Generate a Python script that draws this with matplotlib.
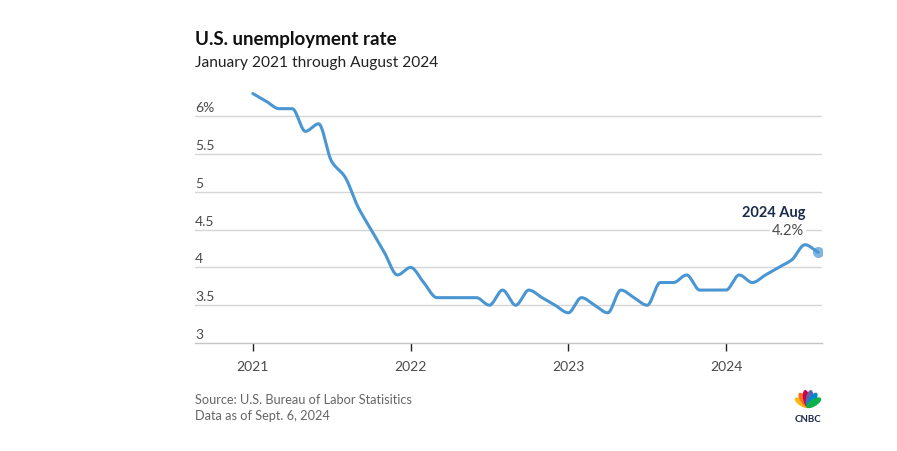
import matplotlib
matplotlib.use("Agg")
import matplotlib.pyplot as plt
import numpy as np
from matplotlib.patches import Ellipse

# ── data: monthly U.S. unemployment rate, Jan 2021 .. Aug 2024 ──────────────
rate_2021 = [6.3, 6.2, 6.1, 6.1, 5.8, 5.9, 5.4, 5.2, 4.8, 4.5, 4.2, 3.9]
rate_2022 = [4.0, 3.8, 3.6, 3.6, 3.6, 3.6, 3.5, 3.7, 3.5, 3.7, 3.6, 3.5]
rate_2023 = [3.4, 3.6, 3.5, 3.4, 3.7, 3.6, 3.5, 3.8, 3.8, 3.9, 3.7, 3.7]
rate_2024 = [3.7, 3.9, 3.8, 3.9, 4.0, 4.1, 4.3, 4.2]
years = ["2021", "2022", "2023", "2024"]
y_ticks = [3, 3.5, 4, 4.5, 5, 5.5, 6]
y_labels = ["3", "3.5", "4", "4.5", "5", "5.5", "6%"]

rate = np.array(rate_2021 + rate_2022 + rate_2023 + rate_2024)
months = np.arange(len(rate))


def monotone_curve(x, y, steps=24):
    # Fritsch-Carlson monotone cubic, like d3's curveMonotoneX
    h = np.diff(x).astype(float)
    d = np.diff(y) / h
    m = np.zeros(len(y))
    m[0], m[-1] = d[0], d[-1]
    for k in range(1, len(y) - 1):
        if d[k - 1] * d[k] > 0:
            m[k] = 2.0 / (1.0 / d[k - 1] + 1.0 / d[k])
    xs, ys = [], []
    for k in range(len(x) - 1):
        t = np.linspace(0, 1, steps, endpoint=False)
        h00 = 2 * t**3 - 3 * t**2 + 1
        h10 = t**3 - 2 * t**2 + t
        h01 = -2 * t**3 + 3 * t**2
        h11 = t**3 - t**2
        xs.append(x[k] + t * h[k])
        ys.append(h00 * y[k] + h10 * h[k] * m[k] + h01 * y[k + 1] + h11 * h[k] * m[k + 1])
    xs.append([x[-1]])
    ys.append([y[-1]])
    return np.concatenate(xs), np.concatenate(ys)


LINE = "#4a96d2"
GRID = "#d6d6d6"
TEXT = "#4a4a4a"

plt.rcParams["font.family"] = ["Lato", "DejaVu Sans"]

fig = plt.figure(figsize=(8.97, 4.51), dpi=100)
ax = fig.add_axes([195 / 897, 108 / 451, (822 - 195) / 897, (343 - 86) / 451])

ax.set_xlim(-4.4, 43.3)
ax.set_ylim(3, 6.4)

for v in y_ticks[1:]:
    ax.axhline(v, color=GRID, lw=1, zorder=1)
for s in ["top", "right", "left"]:
    ax.spines[s].set_visible(False)
ax.spines["bottom"].set_color("#c4c4c4")
ax.spines["bottom"].set_linewidth(1)

# y labels sit inside the plot, just above each gridline
ax.set_yticks([])
for v, lab in zip(y_ticks, y_labels):
    ax.annotate(lab, xy=(0, v), xycoords=("axes fraction", "data"),
                xytext=(0, 2), textcoords="offset pixels",
                ha="left", va="bottom", fontsize=10, color=TEXT)

ax.set_xticks([0, 12, 24, 36])
ax.set_xticklabels(years, fontsize=10, color=TEXT)
ax.tick_params(axis="x", length=6, width=1, color="#222222", pad=7)

cx, cy = monotone_curve(months, rate)
ax.plot(cx, cy, color=LINE, lw=2.2, solid_capstyle="round", zorder=3)
ax.plot(months[-1], rate[-1], "o", ms=8, color=LINE, alpha=0.7, mec="none", zorder=4)

ax.annotate("2024 Aug", xy=(months[-1], rate[-1]), xytext=(-13, 39),
            textcoords="offset pixels", ha="right", va="center",
            fontsize=10.5, fontweight="bold", color="#1b2b4b", zorder=5)
ax.annotate(f"{rate[-1]:.1f}%", xy=(months[-1], rate[-1]), xytext=(-14, 21),
            textcoords="offset pixels", ha="right", va="center",
            fontsize=10.5, color=TEXT, zorder=5,
            bbox=dict(boxstyle="square,pad=0.15", fc="white", ec="none"))

# titles and footer
fig.text(195 / 897, 1 - 40 / 451, "U.S. unemployment rate", fontsize=13.5,
         fontweight="bold", color="#111111", ha="left", va="center")
fig.text(195 / 897, 1 - 63 / 451, "January 2021 through August 2024", fontsize=11.2,
         color="#222222", ha="left", va="center")
fig.text(195 / 897, 1 - 400 / 451, "Source: U.S. Bureau of Labor Statisitics",
         fontsize=9.2, color="#666666", ha="left", va="center")
fig.text(195 / 897, 1 - 416 / 451, "Data as of Sept. 6, 2024",
         fontsize=9.2, color="#666666", ha="left", va="center")

# small CNBC peacock mark
logo = fig.add_axes([792 / 897, 1 - 424 / 451, 32 / 897, 34 / 451])
logo.set_xlim(-1, 1)
logo.set_ylim(-1, 1)
logo.axis("off")
feathers = ["#fcb711", "#f37021", "#cc004c", "#6460aa", "#0089d0", "#0db14b"]
for ang, col in zip(np.linspace(150, 30, 6), feathers):
    r = np.deg2rad(ang)
    logo.add_patch(Ellipse((0.42 * np.cos(r), 0.0 + 0.5 * np.sin(r)), 0.34, 0.95,
                           angle=ang - 90, color=col))
logo.text(0, -0.72, "CNBC", ha="center", va="center", fontsize=7,
          fontweight="bold", color="#1b2b4b")

fig.savefig("out.png", dpi=100)
